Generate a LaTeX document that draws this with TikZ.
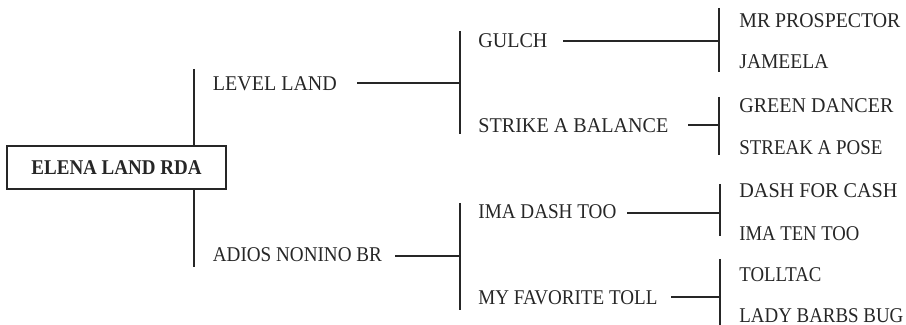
\documentclass[tikz,border=0pt]{standalone}
\usepackage{graphicx}
\usepackage{fontspec}
\setmainfont{Liberation Serif}
\newcommand{\fitlbl}[2]{\resizebox{#1pt}{\height}{#2}}
\begin{document}
\begin{tikzpicture}[x=0.5pt,y=-0.5pt,
  ln/.style={line width=0.6pt,black!85},
  lbl/.style={anchor=base west,inner sep=0pt,font=\fontsize{10.5pt}{12pt}\selectfont,text=black!85},
  rootbox/.style={draw=black!85,line width=0.6pt,fill=white,minimum width=109.5pt,minimum height=21.5pt,inner sep=0pt,font=\fontsize{10.5pt}{12pt}\selectfont\bfseries,text=black!85}]
\useasboundingbox (0,0) rectangle (906,325);
% root
\node[rootbox] (root) at (116.5,167.5) {\fitlbl{85}{ELENA LAND RDA}};
% level 1
\coordinate (v1t) at (194,69);
\coordinate (v1b) at (194,267);
\node[lbl] (level) at (212.5,91) {\fitlbl{62}{LEVEL LAND}};
\node[lbl] (adios) at (212.5,262) {\fitlbl{84.5}{ADIOS NONINO BR}};
\draw[ln] (v1t) -- (v1t |- root.north);
\draw[ln] (root.south -| v1b) -- (v1b);
% level 2 junctions
\coordinate (j1) at (460,83);
\coordinate (j2) at (460,256);
\coordinate (h1) at (357,83);
\coordinate (h2) at (395,256);
\draw[ln] (h1) -- (j1);
\draw[ln] (h2) -- (j2);
\coordinate (v2at) at (460,31);
\coordinate (v2ab) at (460,134);
\coordinate (v2bt) at (460,203);
\coordinate (v2bb) at (460,310);
\draw[ln] (v2at) -- (v2ab);
\draw[ln] (v2bt) -- (v2bb);
\node[lbl] (gulch) at (478,48) {\fitlbl{34.5}{GULCH}};
\node[lbl] (strike) at (478,133) {\fitlbl{95}{STRIKE A BALANCE}};
\node[lbl] (imadash) at (478,219) {\fitlbl{69}{IMA DASH TOO}};
\node[lbl] (myfav) at (478,305) {\fitlbl{89.5}{MY FAVORITE TOLL}};
% level 3 junctions
\coordinate (k1) at (719,41);
\coordinate (k2) at (719,125);
\coordinate (k3) at (720,213);
\coordinate (k4) at (720,297);
\coordinate (g1) at (563,41);
\coordinate (g2) at (688,125);
\coordinate (g3) at (627,213);
\coordinate (g4) at (671,297);
\draw[ln] (g1) -- (k1);
\draw[ln] (g2) -- (k2);
\draw[ln] (g3) -- (k3);
\draw[ln] (g4) -- (k4);
\coordinate (v3at) at (719,8);
\coordinate (v3ab) at (719,72);
\coordinate (v3bt) at (719,97);
\coordinate (v3bb) at (719,155);
\coordinate (v3ct) at (720,184);
\coordinate (v3cb) at (720,236);
\coordinate (v3dt) at (720,259);
\coordinate (v3db) at (720,325);
\draw[ln] (v3at) -- (v3ab);
\draw[ln] (v3bt) -- (v3bb);
\draw[ln] (v3ct) -- (v3cb);
\draw[ln] (v3dt) -- (v3db);
\node[lbl] (mrp) at (739,28) {\fitlbl{80.5}{MR PROSPECTOR}};
\node[lbl] (jam) at (739,69) {\fitlbl{44.5}{JAMEELA}};
\node[lbl] (green) at (739,113) {\fitlbl{77}{GREEN DANCER}};
\node[lbl] (streak) at (739,155) {\fitlbl{71.5}{STREAK A POSE}};
\node[lbl] (dash) at (739,198) {\fitlbl{79}{DASH FOR CASH}};
\node[lbl] (imaten) at (739,241) {\fitlbl{60}{IMA TEN TOO}};
\node[lbl] (toll) at (739,282) {\fitlbl{41}{TOLLTAC}};
\node[lbl] (lady) at (739,323) {\fitlbl{82}{LADY BARBS BUG}};
\end{tikzpicture}
\end{document}
